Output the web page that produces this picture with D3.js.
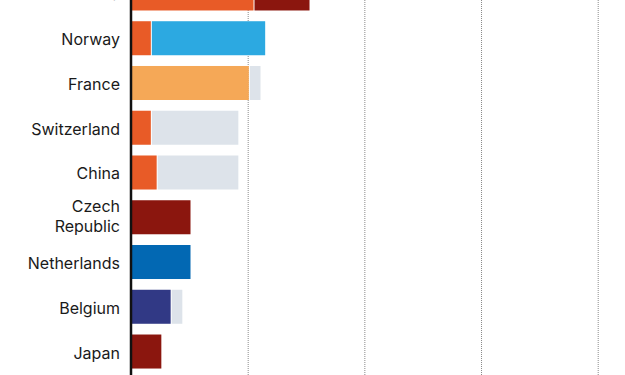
<!DOCTYPE html>
<html>
<head>
<meta charset="utf-8">
<script src="https://cdn.jsdelivr.net/npm/d3@7"></script>
<style>
  body { margin: 0; background: #fff; }
  .label { font-family: Inter, "Noto Sans", sans-serif; font-size: 16px; fill: #1a1a1a; }
  .grid line { stroke: #8a8a8a; stroke-dasharray: 1,1; }
  .grid .domain { display: none; }
</style>
</head>
<body>
<div id="chart"></div>
<script>
var width = 625,
    height = 375;

// chart data
var countries = ["India", "Norway", "France", "Switzerland", "China", "Czech Republic", "Netherlands", "Belgium", "Japan"];
var firstValues = [10.5, 1.7, 10.1, 1.7, 2.2, 5.1, 5.1, 3.4, 2.6];
var secondValues = [4.8, 9.8, 1.0, 7.5, 7.0, 0, 0, 1.0, 0];
var firstGroup = ["orange", "orange", "amber", "orange", "orange", "maroon", "blue", "navy", "maroon"];
var secondGroup = ["maroon", "sky", "grey", "grey", "grey", null, null, "grey", null];
var gridTicks = [10, 20, 30, 40];

var palette = {
  orange: "#e85b27",
  maroon: "#8b160e",
  sky: "#2ca9e1",
  amber: "#f5a857",
  grey: "#dde3ea",
  blue: "#0268b3",
  navy: "#313985"
};

var x = d3.scaleLinear()
  .domain([0, 40])
  .range([131, 597.7]);

var y = d3.scaleBand()
  .domain(countries)
  .range([-28.9, 373.9])
  .paddingInner(0.24)
  .paddingOuter(0.12);

var svg = d3.select("#chart").append("svg")
  .attr("width", width)
  .attr("height", height);

svg.append("g")
  .attr("class", "grid")
  .attr("transform", "translate(0," + height + ")")
  .call(d3.axisBottom(x).tickValues(gridTicks).tickSize(-height).tickFormat(""));

var rows = svg.append("g")
  .selectAll("g")
  .data(countries)
  .enter()
  .append("g")
  .attr("transform", function (d) { return "translate(0," + y(d) + ")"; });

rows.append("rect")
  .attr("x", x(0))
  .attr("height", y.bandwidth())
  .attr("width", function (d, i) { return x(firstValues[i]) - x(0); })
  .attr("fill", function (d, i) { return palette[firstGroup[i]]; });

rows.filter(function (d, i) { return secondValues[i] > 0; })
  .append("rect")
  .attr("x", function (d) { return x(firstValues[countries.indexOf(d)]) + 1; })
  .attr("height", y.bandwidth())
  .attr("width", function (d) {
    var i = countries.indexOf(d);
    return x(firstValues[i] + secondValues[i]) - x(firstValues[i]) - 1;
  })
  .attr("fill", function (d) { return palette[secondGroup[countries.indexOf(d)]]; });

var labels = rows.append("text")
  .attr("class", "label")
  .attr("x", 120)
  .attr("text-anchor", "end");

labels.each(function (d) {
  var words = d.split(" ");
  var t = d3.select(this);
  var mid = y.bandwidth() / 2;
  if (words.length > 1) {
    t.append("tspan").attr("x", 120).attr("y", mid - 5.5).text(words[0]);
    t.append("tspan").attr("x", 120).attr("y", mid + 14.5).text(words.slice(1).join(" "));
  } else {
    t.append("tspan").attr("x", 120).attr("y", mid + 7).text(d);
  }
});

// baseline
svg.append("line")
  .attr("x1", x(0))
  .attr("x2", x(0))
  .attr("y1", 0)
  .attr("y2", height)
  .attr("stroke", "#111")
  .attr("stroke-width", 2.5);
</script>
</body>
</html>
